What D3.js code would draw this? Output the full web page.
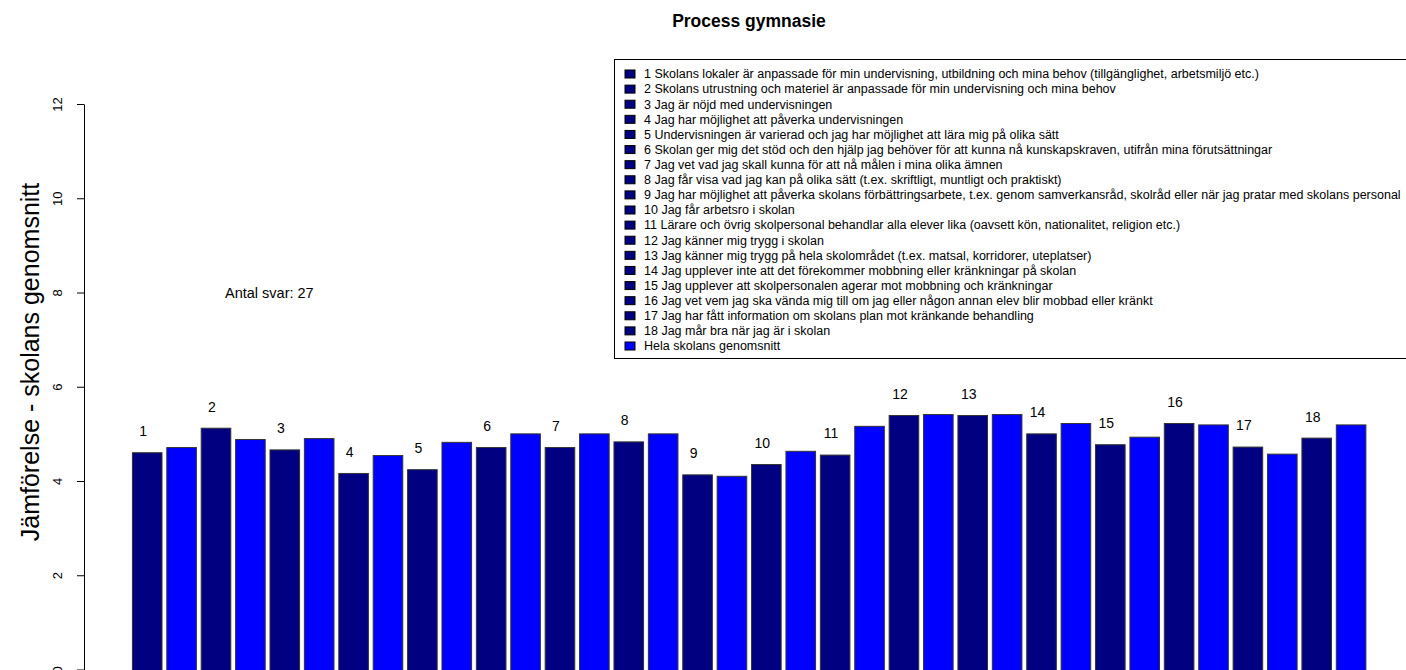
<!DOCTYPE html>
<html>
<head>
<meta charset="utf-8">
<script src="https://cdn.jsdelivr.net/npm/d3@7"></script>
<style>
	body { margin: 0; background: #fff; }
	text { font-family: "Liberation Sans", Arial, sans-serif; fill: #000; }
</style>
</head>
<body>
<script>
//values per question (skolan) and whole-school average per question
var questions = ["1","2","3","4","5","6","7","8","9","10","11","12","13","14","15","16","17","18"];
var schoolValues = [4.60,5.12,4.66,4.16,4.24,4.71,4.71,4.83,4.13,4.35,4.55,5.39,5.39,5.00,4.77,5.22,4.72,4.91];
var averageValues = [4.71,4.88,4.90,4.54,4.82,5.00,5.00,5.00,4.10,4.63,5.16,5.41,5.41,5.22,4.93,5.19,4.57,5.19];
var yTicks = [0,2,4,6,8,10,12];

var legendLabels = [
	"1 Skolans lokaler är anpassade för min undervisning, utbildning och mina behov (tillgänglighet, arbetsmiljö etc.)",
	"2 Skolans utrustning och materiel är anpassade för min undervisning och mina behov",
	"3 Jag är nöjd med undervisningen",
	"4 Jag har möjlighet att påverka undervisningen",
	"5 Undervisningen är varierad och jag har möjlighet att lära mig på olika sätt",
	"6 Skolan ger mig det stöd och den hjälp jag behöver för att kunna nå kunskapskraven, utifrån mina förutsättningar",
	"7 Jag vet vad jag skall kunna för att nå målen i mina olika ämnen",
	"8 Jag får visa vad jag kan på olika sätt (t.ex. skriftligt, muntligt och praktiskt)",
	"9 Jag har möjlighet att påverka skolans förbättringsarbete, t.ex. genom samverkansråd, skolråd eller när jag pratar med skolans personal",
	"10 Jag får arbetsro i skolan",
	"11 Lärare och övrig skolpersonal behandlar alla elever lika (oavsett kön, nationalitet, religion etc.)",
	"12 Jag känner mig trygg i skolan",
	"13 Jag känner mig trygg på hela skolområdet (t.ex. matsal, korridorer, uteplatser)",
	"14 Jag upplever inte att det förekommer mobbning eller kränkningar på skolan",
	"15 Jag upplever att skolpersonalen agerar mot mobbning och kränkningar",
	"16 Jag vet vem jag ska vända mig till om jag eller någon annan elev blir mobbad eller kränkt",
	"17 Jag har fått information om skolans plan mot kränkande behandling",
	"18 Jag mår bra när jag är i skolan",
	"Hela skolans genomsnitt"
];
var antalSvar = 27;

var width = 1406, height = 670;
var navy = "#000080", blue = "#0000ff";

var svg = d3.select("body").append("svg")
	.attr("width", width)
	.attr("height", height);

//build paired bars: question value then school average
var bars = [];
questions.forEach(function(q, i){
	bars.push({key: q + "a", q: q, value: schoolValues[i], color: navy, label: true});
	bars.push({key: q + "b", q: q, value: averageValues[i], color: blue, label: false});
});

var x = d3.scaleBand()
	.domain(bars.map(function(d){ return d.key; }))
	.range([130, 1368.3])
	.paddingInner(0.14)
	.paddingOuter(0.07);

var y = d3.scaleLinear()
	.domain([0, 12])
	.range([669.5, 104]);

//title
svg.append("text")
	.attr("x", 749)
	.attr("y", 27)
	.attr("text-anchor", "middle")
	.style("font-size", "17.5px")
	.style("font-weight", "bold")
	.text("Process gymnasie");

//bars
svg.selectAll(".bar")
	.data(bars)
	.enter()
	.append("rect")
	.attr("class", "bar")
	.attr("x", function(d){ return x(d.key); })
	.attr("width", x.bandwidth())
	.attr("y", function(d){ return y(d.value); })
	.attr("height", function(d){ return y(0) - y(d.value) + 5; })
	.style("fill", function(d){ return d.color; })
	.style("stroke", "#333")
	.style("stroke-width", 1);

//question numbers above the bars
svg.selectAll(".barLabel")
	.data(bars.filter(function(d){ return d.label; }))
	.enter()
	.append("text")
	.attr("class", "barLabel")
	.attr("x", function(d){ return x(d.key) + x.bandwidth() / 2 - 4; })
	.attr("y", function(d){ return y(d.value) - 21.5; })
	.attr("dy", "0.35em")
	.attr("text-anchor", "middle")
	.style("font-size", "14px")
	.text(function(d){ return d.q; });

//y axis
var yAxis = d3.axisLeft(y)
	.tickValues(yTicks)
	.tickSize(7)
	.tickSizeOuter(0);

var axis = svg.append("g")
	.attr("class", "axis")
	.attr("transform", "translate(84,0)")
	.call(yAxis);
axis.select(".domain").attr("stroke", "#000");
axis.selectAll(".tick line").attr("stroke", "#000");
axis.selectAll(".tick text")
	.attr("x", 0)
	.attr("dy", 0)
	.attr("text-anchor", "middle")
	.attr("transform", "translate(-22,0) rotate(-90)")
	.style("font-size", "13px")
	.style("font-family", "Liberation Sans, Arial, sans-serif")
	.attr("fill", "#000");

//y axis title
svg.append("text")
	.attr("transform", "translate(39,362) rotate(-90)")
	.attr("text-anchor", "middle")
	.style("font-size", "25px")
	.text("Jämförelse - skolans genomsnitt");

//number of answers
svg.append("text")
	.attr("x", 225)
	.attr("y", y(8))
	.attr("dy", "0.35em")
	.style("font-size", "14.5px")
	.text("Antal svar: " + antalSvar);

//legend
var legend = svg.append("g").attr("class", "legend");
legend.append("rect")
	.attr("x", 614.5)
	.attr("y", 59.5)
	.attr("width", 820)
	.attr("height", 299)
	.style("fill", "#fff")
	.style("stroke", "#000")
	.style("stroke-width", 1);

var rowY = d3.scaleLinear().domain([0, 18]).range([74, 346]);

var rows = legend.selectAll(".legendRow")
	.data(legendLabels)
	.enter()
	.append("g")
	.attr("class", "legendRow")
	.attr("transform", function(d, i){ return "translate(0," + rowY(i) + ")"; });

rows.append("rect")
	.attr("x", 625)
	.attr("y", -4)
	.attr("width", 10)
	.attr("height", 8)
	.style("fill", function(d, i){ return i < 18 ? navy : blue; })
	.style("stroke", "#000")
	.style("stroke-width", 1);

rows.append("text")
	.attr("x", 644)
	.attr("dy", "0.35em")
	.style("font-size", "12.5px")
	.text(function(d){ return d; });
</script>
</body>
</html>
